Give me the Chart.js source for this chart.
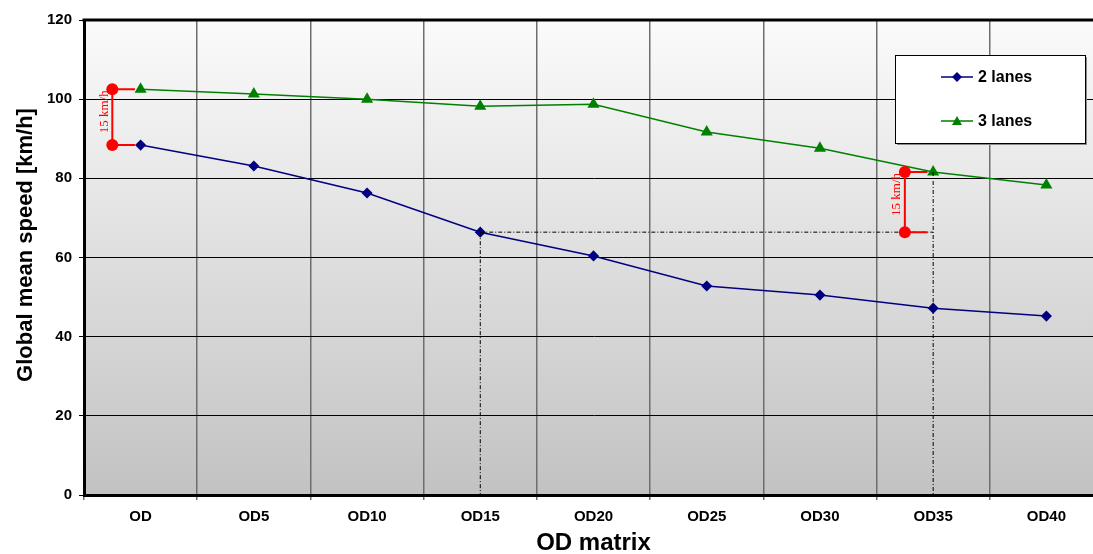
<!DOCTYPE html>
<html>
<head>
<meta charset="utf-8">
<script src="https://cdn.jsdelivr.net/npm/chart.js@4"></script>
<style>
  html, body { margin: 0; padding: 0; background: #fff; overflow: hidden; }
  #wrap { width: 1093px; height: 554px; overflow: hidden; }
</style>
</head>
<body>
<div id="wrap"><canvas id="speedChart" width="1110" height="558"></canvas></div>
<script>
"use strict";

var categories = ['OD', 'OD5', 'OD10', 'OD15', 'OD20', 'OD25', 'OD30', 'OD35', 'OD40'];
var twoLanes = [88.4, 83.1, 76.3, 66.4, 60.4, 52.8, 50.5, 47.2, 45.2];
var threeLanes = [102.5, 101.3, 100.0, 98.2, 98.7, 91.7, 87.6, 81.6, 78.3];
var yTicks = [0, 20, 40, 60, 80, 100, 120];
var gapLabel = '15 km/h';
var yTitle = 'Global mean speed [km/h]';

var FONT = '"Liberation Sans", Arial, sans-serif';

var plotBackground = {
    id: 'plotBackground',
    beforeDraw: function (chart) {
        var ctx = chart.ctx, a = chart.chartArea;
        var grad = ctx.createLinearGradient(0, a.top, 0, a.bottom);
        grad.addColorStop(0, '#fbfbfb');
        grad.addColorStop(1, '#c2c2c2');
        ctx.save();
        ctx.fillStyle = grad;
        ctx.fillRect(a.left, a.top, a.right - a.left, a.bottom - a.top);
        ctx.restore();
    },
    afterDraw: function (chart) {
        var ctx = chart.ctx, a = chart.chartArea;
        ctx.save();
        ctx.strokeStyle = '#000';
        ctx.lineWidth = 3;
        ctx.beginPath();
        ctx.moveTo(a.left - 1.5, a.top);
        ctx.lineTo(a.right, a.top);
        ctx.stroke();
        // y axis title, sits a bit above the plot middle as in the original
        ctx.translate(26, 245);
        ctx.rotate(-Math.PI / 2);
        ctx.fillStyle = '#000';
        ctx.font = 'bold 22px ' + FONT;
        ctx.textAlign = 'center';
        ctx.textBaseline = 'middle';
        ctx.fillText(yTitle, 0, 0);
        ctx.restore();
    }
};

// dashed guides and red 15 km/h brackets
var gapMarks = {
    id: 'gapMarks',
    afterDatasetsDraw: function (chart) {
        var ctx = chart.ctx;
        var x = chart.scales.x, y = chart.scales.y;
        var i15 = 3, i35 = 7;
        ctx.save();
        ctx.strokeStyle = '#000';
        ctx.lineWidth = 1;
        ctx.setLineDash([4, 2, 1, 2]);
        ctx.beginPath();
        ctx.moveTo(x.getPixelForValue(i15), y.getPixelForValue(twoLanes[i15]));
        ctx.lineTo(x.getPixelForValue(i35), y.getPixelForValue(twoLanes[i15]));
        ctx.moveTo(x.getPixelForValue(i15), y.getPixelForValue(twoLanes[i15]));
        ctx.lineTo(x.getPixelForValue(i15), y.getPixelForValue(0));
        ctx.moveTo(x.getPixelForValue(i35), y.getPixelForValue(threeLanes[i35]));
        ctx.lineTo(x.getPixelForValue(i35), y.getPixelForValue(0));
        ctx.stroke();
        ctx.setLineDash([]);

        function bracket(idx, top, bottom) {
            var xc = x.getPixelForValue(idx - 0.25);
            var xe = x.getPixelForValue(idx - 0.05);
            var yt = y.getPixelForValue(top), yb = y.getPixelForValue(bottom);
            ctx.strokeStyle = '#ff0000';
            ctx.fillStyle = '#ff0000';
            ctx.lineWidth = 2;
            ctx.beginPath();
            ctx.moveTo(xc, yt); ctx.lineTo(xe, yt);
            ctx.moveTo(xc, yb); ctx.lineTo(xe, yb);
            ctx.moveTo(xc, yt); ctx.lineTo(xc, yb);
            ctx.stroke();
            ctx.beginPath(); ctx.arc(xc, yt, 6, 0, Math.PI * 2); ctx.fill();
            ctx.beginPath(); ctx.arc(xc, yb, 6, 0, Math.PI * 2); ctx.fill();
            ctx.save();
            ctx.translate(xc - 8, yt + 1);
            ctx.rotate(-Math.PI / 2);
            ctx.font = '13px "Liberation Serif", "Times New Roman", serif';
            ctx.textAlign = 'right';
            ctx.textBaseline = 'middle';
            ctx.fillText(gapLabel, 0, 0);
            ctx.restore();
        }
        bracket(0, threeLanes[0], twoLanes[0]);
        bracket(i35, threeLanes[i35], twoLanes[i15]);
        ctx.restore();
    }
};

// boxed legend inside the plot
var boxLegend = {
    id: 'boxLegend',
    afterDraw: function (chart) {
        var ctx = chart.ctx;
        var bx = 895, by = 55, bw = 190, bh = 88;
        ctx.save();
        ctx.fillStyle = '#8a8a8a';
        ctx.fillRect(bx + 2, by + 2, bw, bh);
        ctx.fillStyle = '#fff';
        ctx.fillRect(bx, by, bw, bh);
        ctx.strokeStyle = '#000';
        ctx.lineWidth = 1;
        ctx.strokeRect(bx + 0.5, by + 0.5, bw, bh);
        var rows = [77, 121];
        chart.data.datasets.forEach(function (ds, i) {
            var ry = rows[i];
            ctx.strokeStyle = ds.borderColor;
            ctx.lineWidth = 1.5;
            ctx.beginPath();
            ctx.moveTo(941, ry); ctx.lineTo(973, ry);
            ctx.stroke();
            ctx.fillStyle = ds.backgroundColor;
            ctx.beginPath();
            if (ds.pointStyle === 'triangle') {
                ctx.moveTo(957, ry - 5); ctx.lineTo(962, ry + 4); ctx.lineTo(952, ry + 4);
            } else {
                ctx.moveTo(957, ry - 5); ctx.lineTo(962, ry); ctx.lineTo(957, ry + 5); ctx.lineTo(952, ry);
            }
            ctx.closePath();
            ctx.fill();
            ctx.fillStyle = '#000';
            ctx.font = 'bold 16px ' + FONT;
            ctx.textBaseline = 'middle';
            ctx.fillText(ds.label, 978, ry + 1);
        });
        ctx.restore();
    }
};

var ctx = document.getElementById('speedChart');
var speedChart = new Chart(ctx, {
    type: 'line',
    data: {
        labels: categories,
        datasets: [{
            label: '2 lanes',
            data: twoLanes,
            borderColor: '#000080',
            backgroundColor: '#000080',
            borderWidth: 1.5,
            pointStyle: 'rectRot',
            pointRadius: 4.5,
            tension: 0
        }, {
            label: '3 lanes',
            data: threeLanes,
            borderColor: '#008000',
            backgroundColor: '#008000',
            borderWidth: 1.5,
            pointStyle: 'triangle',
            pointRadius: 5.5,
            tension: 0
        }]
    },
    options: {
        responsive: false,
        animation: false,
        layout: { padding: { top: 20, right: 7, left: 0, bottom: 0 } },
        plugins: {
            legend: { display: false },
            tooltip: { enabled: false }
        },
        scales: {
            x: {
                offset: true,
                grid: { offset: true, color: '#6e6e6e', lineWidth: 1.5, tickLength: 5 },
                border: { color: '#000', width: 3 },
                ticks: { color: '#000', font: { family: FONT, size: 15, weight: 'bold' }, padding: 8 },
                title: { display: true, text: 'OD matrix', color: '#000', font: { family: FONT, size: 24, weight: 'bold' }, padding: { top: 0, bottom: 0 } },
                afterFit: function (scale) { scale.height = 63; }
            },
            y: {
                min: 0,
                max: 120,
                afterBuildTicks: function (scale) {
                    scale.ticks = yTicks.map(function (v) { return { value: v }; });
                },
                grid: { color: '#000', lineWidth: 1, tickLength: 5 },
                border: { color: '#000', width: 3 },
                ticks: { color: '#000', font: { family: FONT, size: 15, weight: 'bold' }, padding: 7 },
                afterFit: function (scale) { scale.width = 84; }
            }
        }
    },
    plugins: [plotBackground, gapMarks, boxLegend]
});
</script>
</body>
</html>
